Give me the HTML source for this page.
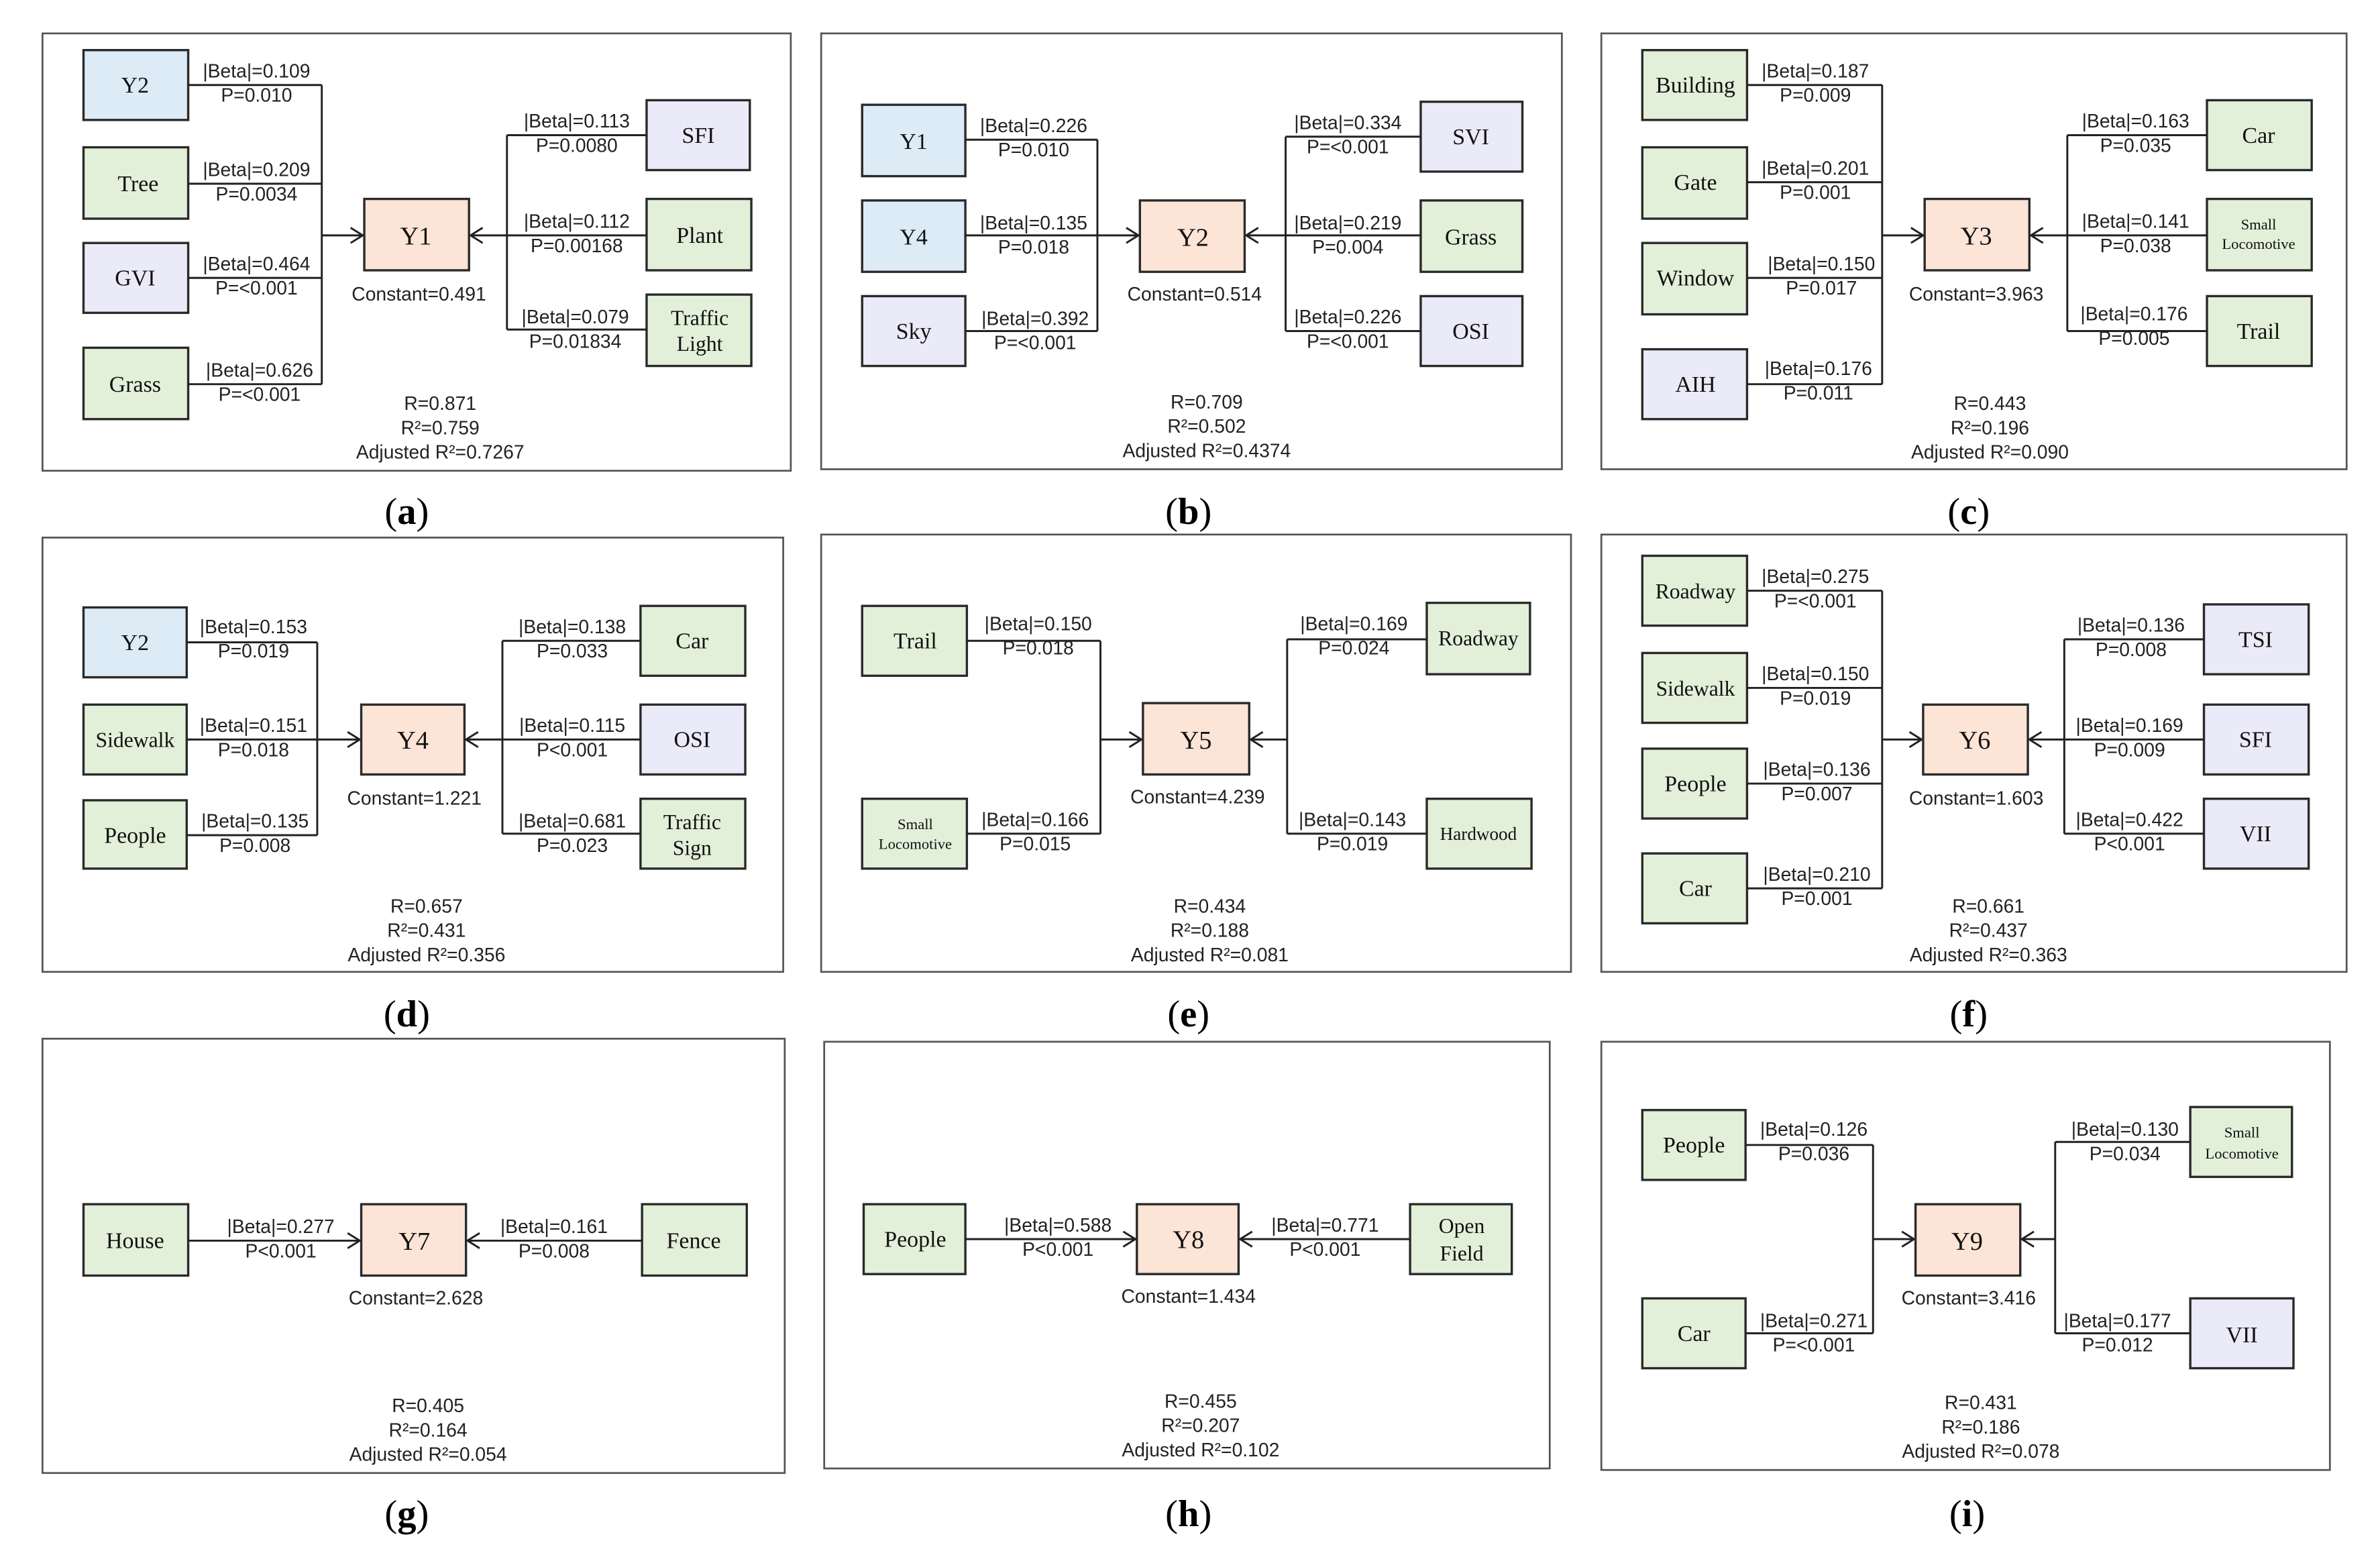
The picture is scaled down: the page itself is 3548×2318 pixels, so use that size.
<!DOCTYPE html>
<html><head><meta charset="utf-8">
<style>
html,body{margin:0;padding:0;background:#fff;}
svg{display:block;}
.f{fill:none;stroke:#555;stroke-width:1.2}
.b{stroke:#2a2a2a;stroke-width:1.5}
.bl{fill:#ddebf7}.gr{fill:#e2f0d9}.pu{fill:#ebeaf8}.or{fill:#fce4d6}
.ln{fill:none;stroke:#222;stroke-width:1.3}
.n{font-family:"Liberation Serif",serif;font-size:15px;fill:#111;text-anchor:middle}
.m{font-family:"Liberation Serif",serif;font-size:14px;fill:#111;text-anchor:middle}
.s{font-family:"Liberation Serif",serif;font-size:10px;fill:#111;text-anchor:middle}
.y{font-family:"Liberation Serif",serif;font-size:17px;fill:#111;text-anchor:middle}
.l{font-family:"Liberation Sans Narrow","Liberation Sans",sans-serif;font-size:12.5px;fill:#222;text-anchor:middle}
.c{font-family:"Liberation Serif",serif;font-size:25px;fill:#000;text-anchor:middle}
</style></head><body>
<svg width="3548" height="2318" viewBox="0 0 1568 1024" preserveAspectRatio="none" xmlns="http://www.w3.org/2000/svg">
<rect width="1568" height="1024" fill="#fff"/>

<!-- ===== (a) ===== -->
<rect class="f" x="28" y="22" width="493" height="288"/>
<rect class="b bl" x="55" y="33" width="69" height="46"/><text class="n" x="89" y="61">Y2</text>
<rect class="b gr" x="55" y="97" width="69" height="47"/><text class="n" x="91" y="126">Tree</text>
<rect class="b pu" x="55" y="160" width="69" height="46"/><text class="n" x="89" y="188">GVI</text>
<rect class="b gr" x="55" y="229" width="69" height="47"/><text class="n" x="89" y="258">Grass</text>
<path class="ln" d="M124 56H212M124 121H212M124 183H212M124 253H212M212 56V253M212 155H239M231 150L239 155L231 160"/>
<text class="l" x="169" y="51">|Beta|=0.109</text><text class="l" x="169" y="67">P=0.010</text>
<text class="l" x="169" y="116">|Beta|=0.209</text><text class="l" x="169" y="132">P=0.0034</text>
<text class="l" x="169" y="178">|Beta|=0.464</text><text class="l" x="169" y="194">P=&lt;0.001</text>
<text class="l" x="171" y="248">|Beta|=0.626</text><text class="l" x="171" y="264">P=&lt;0.001</text>
<rect class="b or" x="240" y="131" width="69" height="47"/><text class="y" x="274" y="161">Y1</text>
<text class="l" x="276" y="198">Constant=0.491</text>
<rect class="b pu" x="426" y="66" width="68" height="46"/><text class="n" x="460" y="94">SFI</text>
<rect class="b gr" x="426" y="131" width="69" height="47"/><text class="n" x="461" y="160">Plant</text>
<rect class="b gr" x="426" y="194" width="69" height="47"/><text class="m" x="461" y="214">Traffic</text><text class="m" x="461" y="231">Light</text>
<path class="ln" d="M426 89H334M426 155H310M426 217H334M334 89V217M318 150L310 155L318 160"/>
<text class="l" x="380" y="84">|Beta|=0.113</text><text class="l" x="380" y="100">P=0.0080</text>
<text class="l" x="380" y="150">|Beta|=0.112</text><text class="l" x="380" y="166">P=0.00168</text>
<text class="l" x="379" y="213">|Beta|=0.079</text><text class="l" x="379" y="229">P=0.01834</text>
<text class="l" x="290" y="270">R=0.871</text><text class="l" x="290" y="286">R²=0.759</text><text class="l" x="290" y="302">Adjusted R²=0.7267</text>
<text class="c" x="268" y="345">(<tspan font-weight="bold">a</tspan>)</text>

<!-- ===== (b) ===== -->
<rect class="f" x="541" y="22" width="488" height="287"/>
<rect class="b bl" x="568" y="69" width="68" height="47"/><text class="n" x="602" y="98">Y1</text>
<rect class="b bl" x="568" y="132" width="68" height="47"/><text class="n" x="602" y="161">Y4</text>
<rect class="b pu" x="568" y="195" width="68" height="46"/><text class="n" x="602" y="223">Sky</text>
<path class="ln" d="M636 92H723M636 155H750M636 218H723M723 92V218M742 150L750 155L742 160"/>
<text class="l" x="681" y="87">|Beta|=0.226</text><text class="l" x="681" y="103">P=0.010</text>
<text class="l" x="681" y="151">|Beta|=0.135</text><text class="l" x="681" y="167">P=0.018</text>
<text class="l" x="682" y="214">|Beta|=0.392</text><text class="l" x="682" y="230">P=&lt;0.001</text>
<rect class="b or" x="751" y="132" width="69" height="47"/><text class="y" x="786" y="162">Y2</text>
<text class="l" x="787" y="198">Constant=0.514</text>
<rect class="b pu" x="936" y="67" width="67" height="46"/><text class="n" x="969" y="95">SVI</text>
<rect class="b gr" x="936" y="132" width="67" height="47"/><text class="n" x="969" y="161">Grass</text>
<rect class="b pu" x="936" y="195" width="67" height="46"/><text class="n" x="969" y="223">OSI</text>
<path class="ln" d="M936 90H847M936 155H821M936 218H847M847 90V218M829 150L821 155L829 160"/>
<text class="l" x="888" y="85">|Beta|=0.334</text><text class="l" x="888" y="101">P=&lt;0.001</text>
<text class="l" x="888" y="151">|Beta|=0.219</text><text class="l" x="888" y="167">P=0.004</text>
<text class="l" x="888" y="213">|Beta|=0.226</text><text class="l" x="888" y="229">P=&lt;0.001</text>
<text class="l" x="795" y="269">R=0.709</text><text class="l" x="795" y="285">R²=0.502</text><text class="l" x="795" y="301">Adjusted R²=0.4374</text>
<text class="c" x="783" y="345">(<tspan font-weight="bold">b</tspan>)</text>

<!-- ===== (c) ===== -->
<rect class="f" x="1055" y="22" width="491" height="287"/>
<rect class="b gr" x="1082" y="33" width="69" height="46"/><text class="n" x="1117" y="61">Building</text>
<rect class="b gr" x="1082" y="97" width="69" height="47"/><text class="n" x="1117" y="125">Gate</text>
<rect class="b gr" x="1082" y="160" width="69" height="47"/><text class="n" x="1117" y="188">Window</text>
<rect class="b pu" x="1082" y="230" width="69" height="46"/><text class="n" x="1117" y="258">AIH</text>
<path class="ln" d="M1151 56H1240M1151 120H1240M1151 183H1240M1151 253H1240M1240 56V253M1240 155H1267M1259 150L1267 155L1259 160"/>
<text class="l" x="1196" y="51">|Beta|=0.187</text><text class="l" x="1196" y="67">P=0.009</text>
<text class="l" x="1196" y="115">|Beta|=0.201</text><text class="l" x="1196" y="131">P=0.001</text>
<text class="l" x="1200" y="178">|Beta|=0.150</text><text class="l" x="1200" y="194">P=0.017</text>
<text class="l" x="1198" y="247">|Beta|=0.176</text><text class="l" x="1198" y="263">P=0.011</text>
<rect class="b or" x="1268" y="131" width="69" height="47"/><text class="y" x="1302" y="161">Y3</text>
<text class="l" x="1302" y="198">Constant=3.963</text>
<rect class="b gr" x="1454" y="66" width="69" height="46"/><text class="n" x="1488" y="94">Car</text>
<rect class="b gr" x="1454" y="131" width="69" height="47"/><text class="s" x="1488" y="151">Small</text><text class="s" x="1488" y="164">Locomotive</text>
<rect class="b gr" x="1454" y="195" width="69" height="46"/><text class="n" x="1488" y="223">Trail</text>
<path class="ln" d="M1454 89H1362M1454 155H1338M1454 218H1362M1362 89V218M1346 150L1338 155L1346 160"/>
<text class="l" x="1407" y="84">|Beta|=0.163</text><text class="l" x="1407" y="100">P=0.035</text>
<text class="l" x="1407" y="150">|Beta|=0.141</text><text class="l" x="1407" y="166">P=0.038</text>
<text class="l" x="1406" y="211">|Beta|=0.176</text><text class="l" x="1406" y="227">P=0.005</text>
<text class="l" x="1311" y="270">R=0.443</text><text class="l" x="1311" y="286">R²=0.196</text><text class="l" x="1311" y="302">Adjusted R²=0.090</text>
<text class="c" x="1297" y="345">(<tspan font-weight="bold">c</tspan>)</text>

<!-- ===== (d) ===== -->
<rect class="f" x="28" y="354" width="488" height="286"/>
<rect class="b bl" x="55" y="400" width="68" height="46"/><text class="n" x="89" y="428">Y2</text>
<rect class="b gr" x="55" y="464" width="68" height="46"/><text class="m" x="89" y="492">Sidewalk</text>
<rect class="b gr" x="55" y="527" width="68" height="45"/><text class="n" x="89" y="555">People</text>
<path class="ln" d="M123 423H209M123 487H237M123 550H209M209 423V550M229 482L237 487L229 492"/>
<text class="l" x="167" y="417">|Beta|=0.153</text><text class="l" x="167" y="433">P=0.019</text>
<text class="l" x="167" y="482">|Beta|=0.151</text><text class="l" x="167" y="498">P=0.018</text>
<text class="l" x="168" y="545">|Beta|=0.135</text><text class="l" x="168" y="561">P=0.008</text>
<rect class="b or" x="238" y="464" width="68" height="46"/><text class="y" x="272" y="493">Y4</text>
<text class="l" x="273" y="530">Constant=1.221</text>
<rect class="b gr" x="422" y="399" width="69" height="46"/><text class="n" x="456" y="427">Car</text>
<rect class="b pu" x="422" y="464" width="69" height="46"/><text class="n" x="456" y="492">OSI</text>
<rect class="b gr" x="422" y="526" width="69" height="46"/><text class="m" x="456" y="546">Traffic</text><text class="m" x="456" y="563">Sign</text>
<path class="ln" d="M422 422H331M422 487H307M422 549H331M331 422V549M315 482L307 487L315 492"/>
<text class="l" x="377" y="417">|Beta|=0.138</text><text class="l" x="377" y="433">P=0.033</text>
<text class="l" x="377" y="482">|Beta|=0.115</text><text class="l" x="377" y="498">P&lt;0.001</text>
<text class="l" x="377" y="545">|Beta|=0.681</text><text class="l" x="377" y="561">P=0.023</text>
<text class="l" x="281" y="601">R=0.657</text><text class="l" x="281" y="617">R²=0.431</text><text class="l" x="281" y="633">Adjusted R²=0.356</text>
<text class="c" x="268" y="676">(<tspan font-weight="bold">d</tspan>)</text>

<!-- ===== (e) ===== -->
<rect class="f" x="541" y="352" width="494" height="288"/>
<rect class="b gr" x="568" y="399" width="69" height="46"/><text class="n" x="603" y="427">Trail</text>
<rect class="b gr" x="568" y="526" width="69" height="46"/><text class="s" x="603" y="546">Small</text><text class="s" x="603" y="559">Locomotive</text>
<path class="ln" d="M637 422H725M637 549H725M725 422V549M725 487H752M744 482L752 487L744 492"/>
<text class="l" x="684" y="415">|Beta|=0.150</text><text class="l" x="684" y="431">P=0.018</text>
<text class="l" x="682" y="544">|Beta|=0.166</text><text class="l" x="682" y="560">P=0.015</text>
<rect class="b or" x="753" y="463" width="70" height="47"/><text class="y" x="788" y="493">Y5</text>
<text class="l" x="789" y="529">Constant=4.239</text>
<rect class="b gr" x="940" y="397" width="68" height="47"/><text class="m" x="974" y="425">Roadway</text>
<rect class="b gr" x="940" y="526" width="69" height="46"/><text class="s" style="font-size:12px" x="974" y="553">Hardwood</text>
<path class="ln" d="M940 421H848M940 549H848M848 421V549M848 487H824M832 482L824 487L832 492"/>
<text class="l" x="892" y="415">|Beta|=0.169</text><text class="l" x="892" y="431">P=0.024</text>
<text class="l" x="891" y="544">|Beta|=0.143</text><text class="l" x="891" y="560">P=0.019</text>
<text class="l" x="797" y="601">R=0.434</text><text class="l" x="797" y="617">R²=0.188</text><text class="l" x="797" y="633">Adjusted R²=0.081</text>
<text class="c" x="783" y="676">(<tspan font-weight="bold">e</tspan>)</text>

<!-- ===== (f) ===== -->
<rect class="f" x="1055" y="352" width="491" height="288"/>
<rect class="b gr" x="1082" y="366" width="69" height="46"/><text class="m" x="1117" y="394">Roadway</text>
<rect class="b gr" x="1082" y="430" width="69" height="46"/><text class="m" x="1117" y="458">Sidewalk</text>
<rect class="b gr" x="1082" y="493" width="69" height="46"/><text class="n" x="1117" y="521">People</text>
<rect class="b gr" x="1082" y="562" width="69" height="46"/><text class="n" x="1117" y="590">Car</text>
<path class="ln" d="M1151 389H1240M1151 453H1240M1151 516H1240M1151 585H1240M1240 389V585M1240 487H1266M1258 482L1266 487L1258 492"/>
<text class="l" x="1196" y="384">|Beta|=0.275</text><text class="l" x="1196" y="400">P=&lt;0.001</text>
<text class="l" x="1196" y="448">|Beta|=0.150</text><text class="l" x="1196" y="464">P=0.019</text>
<text class="l" x="1197" y="511">|Beta|=0.136</text><text class="l" x="1197" y="527">P=0.007</text>
<text class="l" x="1197" y="580">|Beta|=0.210</text><text class="l" x="1197" y="596">P=0.001</text>
<rect class="b or" x="1267" y="464" width="69" height="46"/><text class="y" x="1301" y="493">Y6</text>
<text class="l" x="1302" y="530">Constant=1.603</text>
<rect class="b pu" x="1452" y="398" width="69" height="46"/><text class="n" x="1486" y="426">TSI</text>
<rect class="b pu" x="1452" y="464" width="69" height="46"/><text class="n" x="1486" y="492">SFI</text>
<rect class="b pu" x="1452" y="526" width="69" height="46"/><text class="n" x="1486" y="554">VII</text>
<path class="ln" d="M1452 421H1360M1452 487H1337M1452 549H1360M1360 421V549M1345 482L1337 487L1345 492"/>
<text class="l" x="1404" y="416">|Beta|=0.136</text><text class="l" x="1404" y="432">P=0.008</text>
<text class="l" x="1403" y="482">|Beta|=0.169</text><text class="l" x="1403" y="498">P=0.009</text>
<text class="l" x="1403" y="544">|Beta|=0.422</text><text class="l" x="1403" y="560">P&lt;0.001</text>
<text class="l" x="1310" y="601">R=0.661</text><text class="l" x="1310" y="617">R²=0.437</text><text class="l" x="1310" y="633">Adjusted R²=0.363</text>
<text class="c" x="1297" y="676">(<tspan font-weight="bold">f</tspan>)</text>

<!-- ===== (g) ===== -->
<rect class="f" x="28" y="684" width="489" height="286"/>
<rect class="b gr" x="55" y="793" width="69" height="47"/><text class="n" x="89" y="822">House</text>
<rect class="b or" x="238" y="793" width="69" height="47"/><text class="y" x="273" y="823">Y7</text>
<rect class="b gr" x="423" y="793" width="69" height="47"/><text class="n" x="457" y="822">Fence</text>
<path class="ln" d="M124 817H237M229 812L237 817L229 822M423 817H308M316 812L308 817L316 822"/>
<text class="l" x="185" y="812">|Beta|=0.277</text><text class="l" x="185" y="828">P&lt;0.001</text>
<text class="l" x="365" y="812">|Beta|=0.161</text><text class="l" x="365" y="828">P=0.008</text>
<text class="l" x="274" y="859">Constant=2.628</text>
<text class="l" x="282" y="930">R=0.405</text><text class="l" x="282" y="946">R²=0.164</text><text class="l" x="282" y="962">Adjusted R²=0.054</text>
<text class="c" x="268" y="1005">(<tspan font-weight="bold">g</tspan>)</text>

<!-- ===== (h) ===== -->
<rect class="f" x="543" y="686" width="478" height="281"/>
<rect class="b gr" x="569" y="793" width="67" height="46"/><text class="n" x="603" y="821">People</text>
<rect class="b or" x="749" y="793" width="67" height="46"/><text class="y" x="783" y="822">Y8</text>
<rect class="b gr" x="929" y="793" width="67" height="46"/><text class="m" x="963" y="812">Open</text><text class="m" x="963" y="830">Field</text>
<path class="ln" d="M636 816H748M740 811L748 816L740 821M929 816H817M825 811L817 816L825 821"/>
<text class="l" x="697" y="811">|Beta|=0.588</text><text class="l" x="697" y="827">P&lt;0.001</text>
<text class="l" x="873" y="811">|Beta|=0.771</text><text class="l" x="873" y="827">P&lt;0.001</text>
<text class="l" x="783" y="858">Constant=1.434</text>
<text class="l" x="791" y="927">R=0.455</text><text class="l" x="791" y="943">R²=0.207</text><text class="l" x="791" y="959">Adjusted R²=0.102</text>
<text class="c" x="783" y="1005">(<tspan font-weight="bold">h</tspan>)</text>

<!-- ===== (i) ===== -->
<rect class="f" x="1055" y="686" width="480" height="282"/>
<rect class="b gr" x="1082" y="731" width="68" height="46"/><text class="n" x="1116" y="759">People</text>
<rect class="b gr" x="1082" y="855" width="68" height="46"/><text class="n" x="1116" y="883">Car</text>
<path class="ln" d="M1150 754H1234M1150 878H1234M1234 754V878M1234 816H1261M1253 811L1261 816L1253 821"/>
<text class="l" x="1195" y="748">|Beta|=0.126</text><text class="l" x="1195" y="764">P=0.036</text>
<text class="l" x="1195" y="874">|Beta|=0.271</text><text class="l" x="1195" y="890">P=&lt;0.001</text>
<rect class="b or" x="1262" y="793" width="69" height="47"/><text class="y" x="1296" y="823">Y9</text>
<text class="l" x="1297" y="859">Constant=3.416</text>
<rect class="b gr" x="1443" y="729" width="67" height="46"/><text class="s" x="1477" y="749">Small</text><text class="s" x="1477" y="763">Locomotive</text>
<rect class="b pu" x="1443" y="855" width="68" height="46"/><text class="n" x="1477" y="884">VII</text>
<path class="ln" d="M1443 752H1354M1443 878H1354M1354 752V878M1354 816H1332M1340 811L1332 816L1340 821"/>
<text class="l" x="1400" y="748">|Beta|=0.130</text><text class="l" x="1400" y="764">P=0.034</text>
<text class="l" x="1395" y="874">|Beta|=0.177</text><text class="l" x="1395" y="890">P=0.012</text>
<text class="l" x="1305" y="928">R=0.431</text><text class="l" x="1305" y="944">R²=0.186</text><text class="l" x="1305" y="960">Adjusted R²=0.078</text>
<text class="c" x="1296" y="1005">(<tspan font-weight="bold">i</tspan>)</text>
</svg>
</body></html>
